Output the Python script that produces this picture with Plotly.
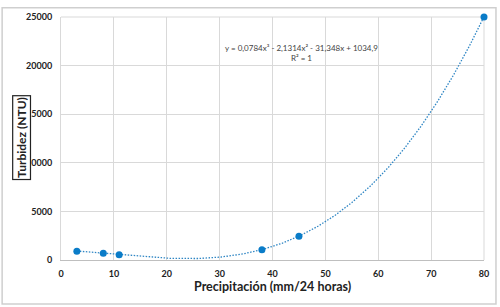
import numpy as np
import plotly.graph_objects as go

precip = [3, 8, 11, 38, 45, 80]
turbidez = [900, 690, 540, 1060, 2450, 25000]
coef = [0.0784, -2.1314, -31.348, 1034.9]  # cubic trend line shown on chart
x_ticks = [0, 10, 20, 30, 40, 50, 60, 70, 80]
y_ticks = [0, 5000, 10000, 15000, 20000, 25000]

xt = np.linspace(min(precip), max(precip), 300)
yt = np.polyval(coef, xt)

fig = go.Figure()
fig.add_trace(go.Scatter(x=xt, y=yt, mode="lines",
                         line=dict(color="#2f86c4", width=1.3, dash="1.5px,1.5px"),
                         hoverinfo="skip", showlegend=False))
fig.add_trace(go.Scatter(x=precip, y=turbidez, mode="markers", cliponaxis=False,
                         marker=dict(color="#0a7cc8", size=7), showlegend=False))

fig.update_layout(
    width=500, height=307,
    margin=dict(l=61, r=15, t=11, b=47),
    paper_bgcolor="white", plot_bgcolor="white",
    font=dict(family="Lato, Arial, sans-serif", color="#222"),
    xaxis=dict(range=[0, 80], tickvals=x_ticks, tickformat="d", showgrid=True,
               gridcolor="#d9d9d9", gridwidth=1, zeroline=False, showline=True,
               linecolor="#bfbfbf", ticks="", ticklabelstandoff=5,
               tickfont=dict(size=9, family="Lato", color="#222", weight="bold")),
    yaxis=dict(range=[0, 25000], tickvals=y_ticks, tickformat="d", showgrid=True,
               gridcolor="#d9d9d9", gridwidth=1, zeroline=False, showline=True,
               linecolor="#d9d9d9", ticks="", ticklabelstandoff=6,
               tickfont=dict(size=9, family="Lato", color="#222", weight="bold")),
    shapes=[
        dict(type="rect", xref="paper", yref="paper",
             x0=(2 - 61) / 424, x1=(497 - 61) / 424,
             y0=(260 - 305) / 249, y1=(260 - 1.5) / 249,
             line=dict(color="#cfcfcf", width=1.5), layer="above"),
        dict(type="line", xref="paper", yref="paper", x0=1, x1=1, y0=0, y1=1,
             line=dict(color="#d9d9d9", width=1), layer="below"),
        dict(type="line", xref="paper", yref="paper", x0=0, x1=1, y0=1, y1=1,
             line=dict(color="#d9d9d9", width=1), layer="below"),
    ],
    annotations=[
        dict(text="y = 0,0784x³ - 2,1314x² - 31,348x + 1034,9<br>R² = 1",
             xref="paper", yref="paper", x=(302 - 61) / 424, y=(260 - 48) / 249,
             xanchor="center", yanchor="middle",
             showarrow=False, font=dict(size=8, color="#444", family="Lato"),
             align="center"),
        dict(text="<b>Precipitación (mm/24 horas)</b>", xref="paper", yref="paper",
             x=0.5, y=(260 - 287) / 249, xanchor="center", yanchor="middle",
             showarrow=False, font=dict(size=12.5, color="#222", family="Lato")),
        dict(text="<b>Turbidez (NTU)</b>", xref="paper", yref="paper",
             x=(21 - 61) / 424, y=(260 - 135) / 249, xanchor="center", yanchor="middle",
             textangle=-90, showarrow=False,
             font=dict(size=12, color="#222", family="Lato"),
             bordercolor="#222", borderwidth=1.2, borderpad=1, bgcolor="white"),
    ],
)

fig.write_html("out.html", config={"displayModeBar": False},
               post_script="document.body.style.margin='0';")
